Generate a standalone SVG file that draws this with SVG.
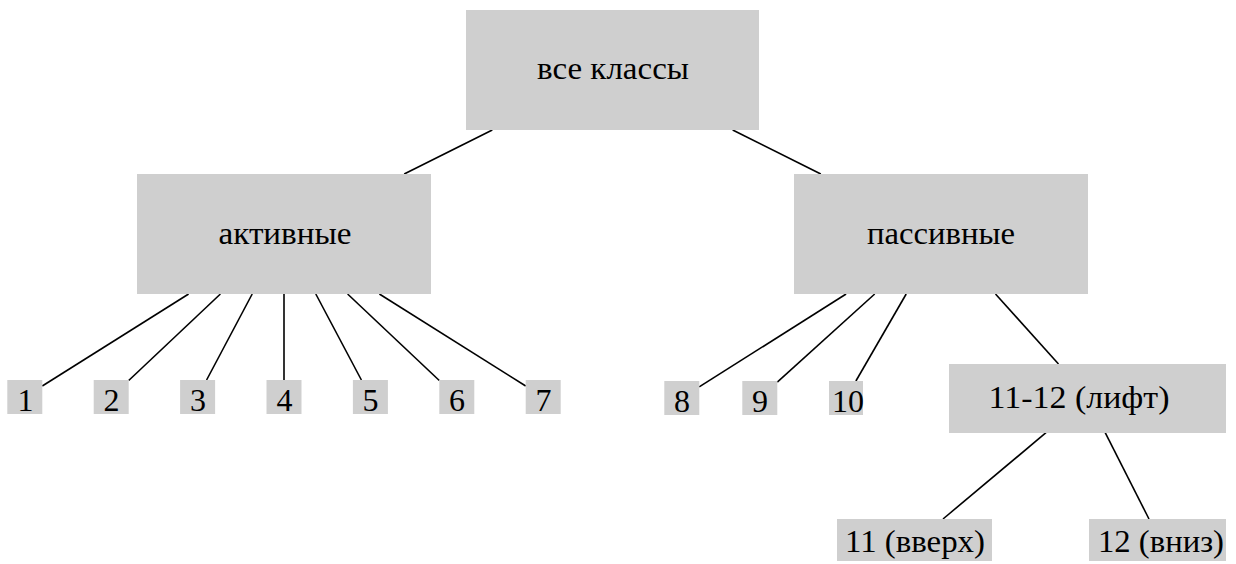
<svg xmlns="http://www.w3.org/2000/svg" width="1236" height="564" viewBox="0 0 1236 564">
<style>
.box{fill:#cfcfcf;}
.edge{stroke:#000;stroke-width:1.6;fill:none;}
</style>
<rect width="1236" height="564" fill="#fff"/>
<g id="connectors">
<line class="edge" x1="492.3" y1="130" x2="404.2" y2="174"/>
<line class="edge" x1="732.7" y1="130" x2="820.8" y2="174"/>
<line class="edge" x1="188.6" y1="294" x2="42.3" y2="386"/>
<line class="edge" x1="220.4" y1="294" x2="128.7" y2="380.5"/>
<line class="edge" x1="252.2" y1="294" x2="206.6" y2="380"/>
<line class="edge" x1="284" y1="294" x2="284" y2="380"/>
<line class="edge" x1="315.8" y1="294" x2="361.4" y2="380"/>
<line class="edge" x1="347.6" y1="294" x2="439.3" y2="380.5"/>
<line class="edge" x1="379.4" y1="294" x2="525.7" y2="386"/>
<line class="edge" x1="846.1" y1="294" x2="699.2" y2="386.9"/>
<line class="edge" x1="874.7" y1="294" x2="777.3" y2="382.2"/>
<line class="edge" x1="906.2" y1="294" x2="855.9" y2="381"/>
<line class="edge" x1="995.5" y1="294" x2="1058.5" y2="364"/>
<line class="edge" x1="1046" y1="432.7" x2="943" y2="519"/>
<line class="edge" x1="1105.2" y1="432.7" x2="1149" y2="519"/>
</g>
<g font-family="Liberation Serif, DejaVu Serif, serif" font-size="31" fill="#000" text-anchor="middle">
<g id="root"><rect class="box" x="466" y="10" width="293" height="120"/><text x="613" y="79" textLength="152" lengthAdjust="spacingAndGlyphs">все классы</text></g>
<g id="active"><rect class="box" x="137" y="174" width="294" height="120"/><text x="285" y="244" textLength="133" lengthAdjust="spacingAndGlyphs">активные</text></g>
<g id="passive"><rect class="box" x="794" y="174" width="294" height="120"/><text x="941" y="244" textLength="148" lengthAdjust="spacingAndGlyphs">пассивные</text></g>
<g id="n1"><rect class="box" x="7.3" y="380" width="35" height="34"/><text x="25.5" y="411" font-size="32">1</text></g>
<g id="n2"><rect class="box" x="93.7" y="380" width="35" height="34"/><text x="111.5" y="411" font-size="32">2</text></g>
<g id="n3"><rect class="box" x="180.1" y="380" width="35" height="34"/><text x="198" y="411" font-size="32">3</text></g>
<g id="n4"><rect class="box" x="266.5" y="380" width="35" height="34"/><text x="284.5" y="411" font-size="32">4</text></g>
<g id="n5"><rect class="box" x="352.9" y="380" width="35" height="34"/><text x="370.5" y="411" font-size="32">5</text></g>
<g id="n6"><rect class="box" x="439.3" y="380" width="35" height="34"/><text x="457" y="411" font-size="32">6</text></g>
<g id="n7"><rect class="box" x="525.7" y="380" width="35" height="34"/><text x="543.5" y="411" font-size="32">7</text></g>
<g id="n8"><rect class="box" x="664.3" y="381" width="35" height="34"/><text x="682" y="412" font-size="32">8</text></g>
<g id="n9"><rect class="box" x="742.3" y="381" width="35" height="34"/><text x="760" y="412" font-size="32">9</text></g>
<g id="n10"><rect class="box" x="829" y="381" width="34" height="34"/><text x="848" y="412" font-size="32">10</text></g>
<g id="lift"><rect class="box" x="949" y="364" width="277" height="69"/><text x="1079" y="408" textLength="181" lengthAdjust="spacingAndGlyphs">11-12 (лифт)</text></g>
<g id="up"><rect class="box" x="837" y="519" width="155" height="42"/><text x="915" y="552" textLength="140" lengthAdjust="spacingAndGlyphs">11 (вверх)</text></g>
<g id="down"><rect class="box" x="1089" y="519" width="137" height="42"/><text x="1161" y="552" textLength="126" lengthAdjust="spacingAndGlyphs">12 (вниз)</text></g>
</g>
</svg>
